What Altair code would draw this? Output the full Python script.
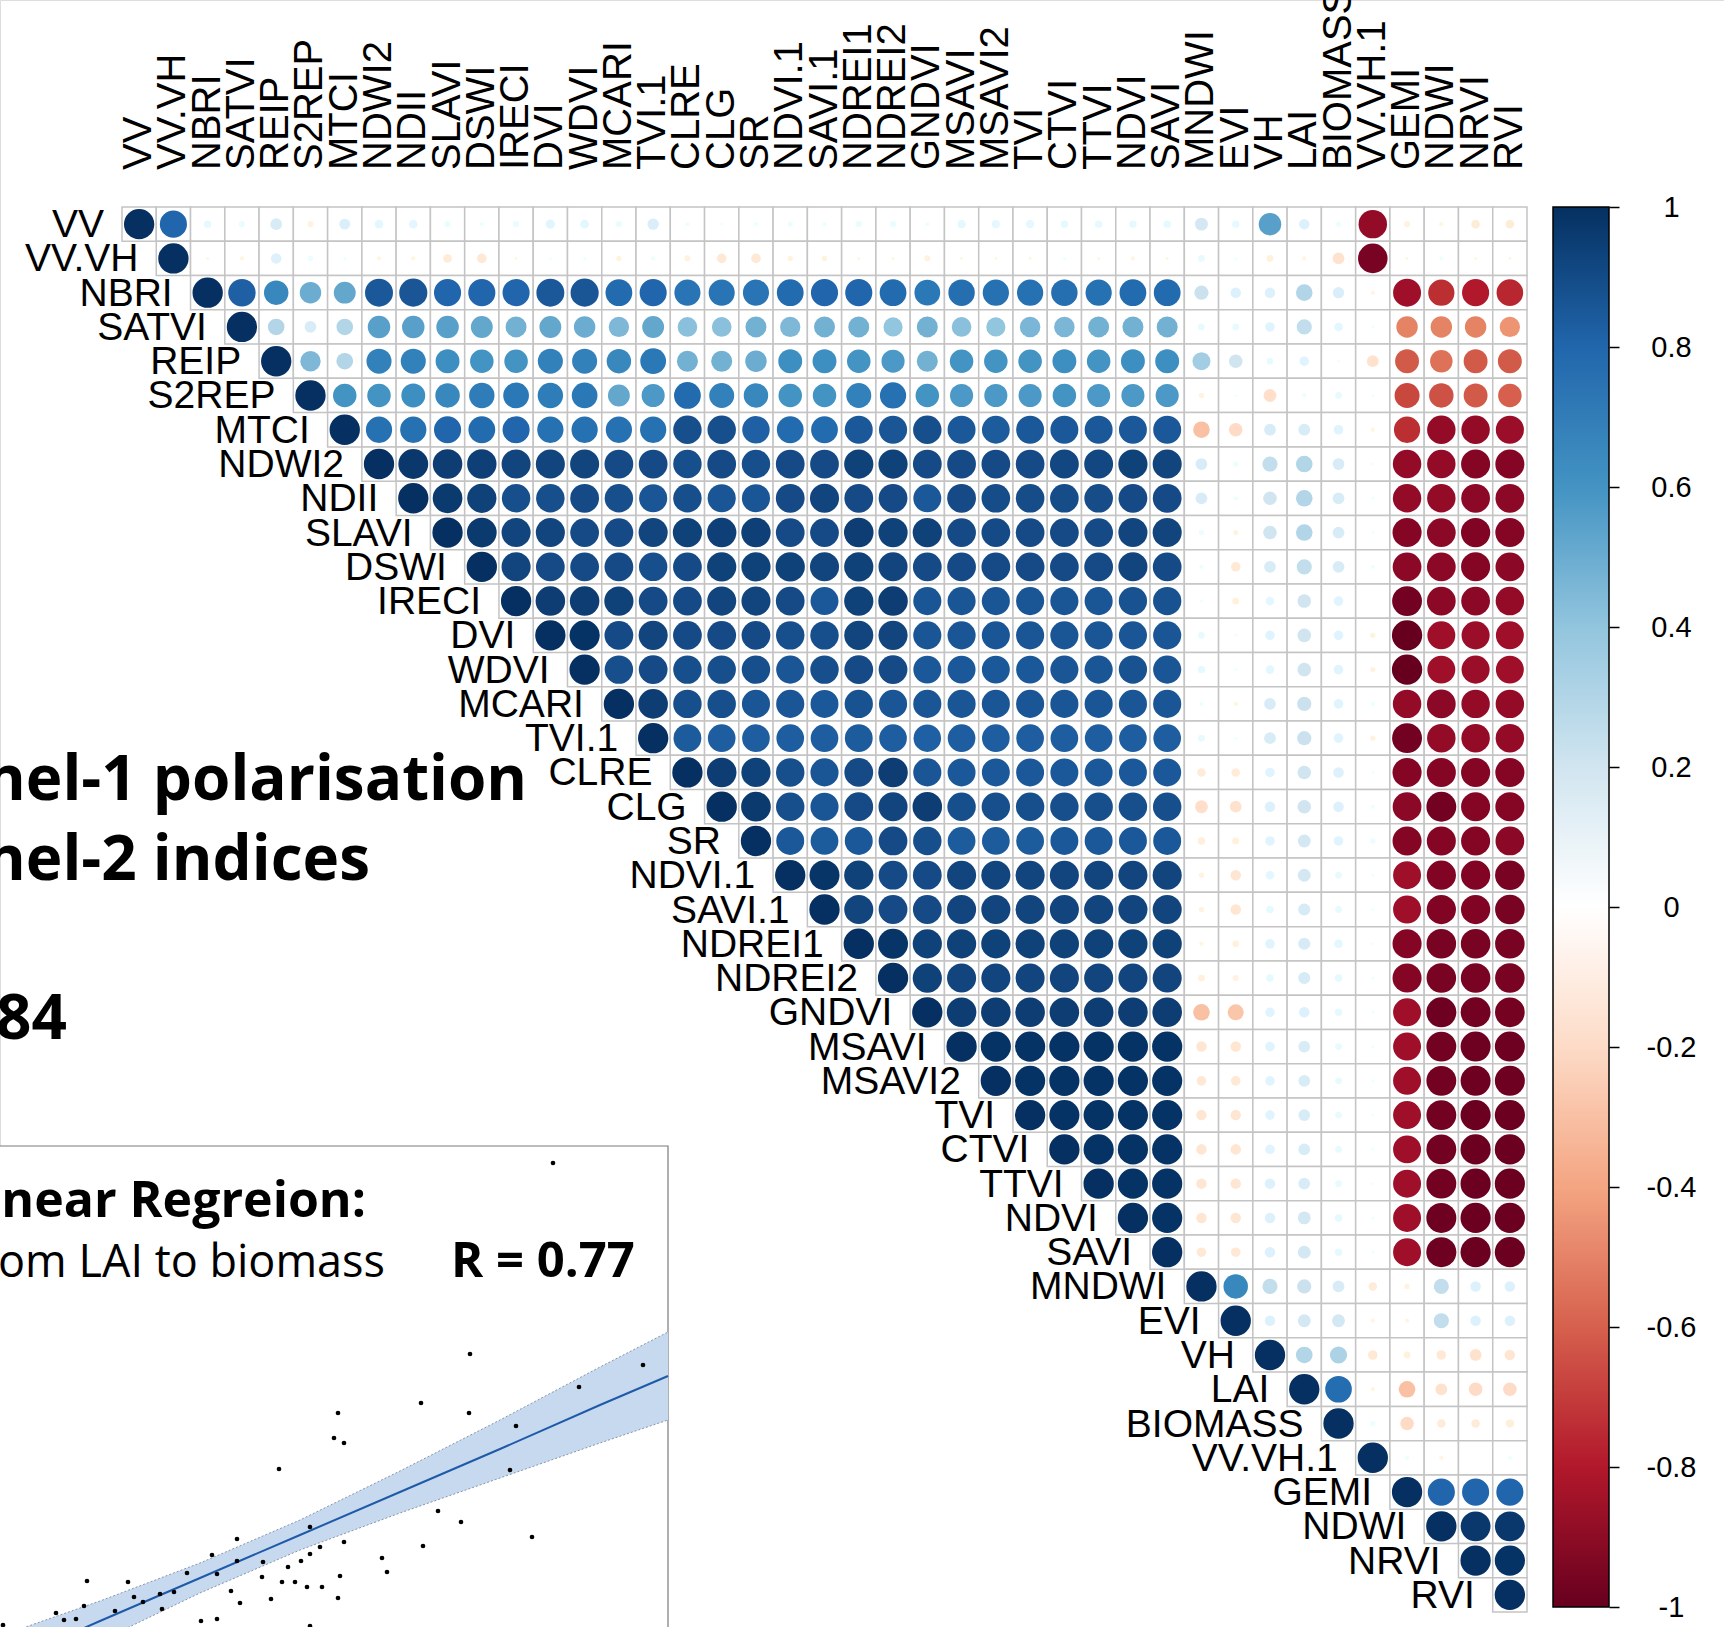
import altair as alt
import pandas as pd

names = ["VV", "VV.VH", "NBRI", "SATVI", "REIP", "S2REP", "MTCI", "NDWI2", "NDII", "SLAVI",
         "DSWI", "IRECI", "DVI", "WDVI", "MCARI", "TVI.1", "CLRE", "CLG", "SR", "NDVI.1",
         "SAVI.1", "NDREI1", "NDREI2", "GNDVI", "MSAVI", "MSAVI2", "TVI", "CTVI", "TTVI", "NDVI",
         "SAVI", "MNDWI", "EVI", "VH", "LAI", "BIOMASS", "VV.VH.1", "GEMI", "NDWI", "NRVI", "RVI"]

# upper-triangle correlations, each row starts at its own diagonal
r_VV = [1.0, 0.80, 0.06, 0.04, 0.15, -0.04, 0.13, 0.08, 0.08, 0.04, 0.02, 0.04, 0.09, 0.08, 0.04, 0.14,
        0.02, 0.01, 0.02, 0.03, 0.02, 0.04, 0.04, 0.02, 0.07, 0.07, 0.07, 0.06, 0.06, 0.06, 0.06,
        0.18, 0.06, 0.55, 0.12, 0.03, -0.88, -0.04, -0.02, -0.08, -0.08]
r_VVVH = [1.0, -0.01, -0.02, 0.12, 0.03, 0.01, -0.02, -0.02, -0.08, -0.10, -0.01, 0.01, 0.01, -0.03,
          0.02, -0.04, -0.10, -0.10, -0.03, -0.03, -0.01, -0.01, -0.04, -0.01, -0.01, -0.01, 0.01,
          -0.01, -0.02, -0.01, 0.05, 0.01, -0.05, -0.02, -0.15, -0.95, -0.01, 0.02, -0.01, -0.01]
r_NBRI = [1.0, 0.82, 0.65, 0.50, 0.52, 0.85, 0.86, 0.80, 0.80, 0.80, 0.85, 0.86, 0.78, 0.80, 0.74,
          0.74, 0.74, 0.78, 0.80, 0.80, 0.78, 0.72, 0.76, 0.75, 0.75, 0.76, 0.75, 0.78, 0.78,
          0.22, 0.12, 0.12, 0.30, 0.14, -0.02, -0.85, -0.75, -0.80, -0.77]
r_SATVI = [1.0, 0.30, 0.15, 0.30, 0.55, 0.55, 0.55, 0.52, 0.48, 0.52, 0.50, 0.45, 0.52, 0.42, 0.42,
           0.48, 0.45, 0.48, 0.48, 0.40, 0.48, 0.42, 0.40, 0.46, 0.46, 0.48, 0.48, 0.48,
           0.05, 0.05, 0.10, 0.25, 0.08, 0.01, -0.50, -0.50, -0.50, -0.45]
r_REIP = [1.0, 0.45, 0.30, 0.68, 0.68, 0.62, 0.60, 0.60, 0.68, 0.68, 0.65, 0.72, 0.48, 0.48, 0.50,
          0.62, 0.62, 0.60, 0.58, 0.48, 0.60, 0.60, 0.60, 0.62, 0.60, 0.62, 0.62,
          0.35, 0.20, 0.05, 0.10, 0.01, -0.15, -0.62, -0.55, -0.62, -0.62]
r_S2REP = [1.0, 0.60, 0.60, 0.62, 0.65, 0.70, 0.72, 0.70, 0.72, 0.52, 0.58, 0.78, 0.68, 0.65, 0.60,
           0.60, 0.68, 0.75, 0.60, 0.58, 0.58, 0.58, 0.60, 0.58, 0.58, 0.58,
           -0.03, 0.01, -0.18, 0.02, 0.05, 0.01, -0.68, -0.65, -0.62, -0.60]
r_MTCI = [1.0, 0.75, 0.75, 0.80, 0.78, 0.80, 0.75, 0.75, 0.75, 0.75, 0.88, 0.88, 0.82, 0.78, 0.78,
          0.85, 0.86, 0.88, 0.85, 0.84, 0.85, 0.85, 0.85, 0.85, 0.85,
          -0.30, -0.20, 0.15, 0.15, 0.10, -0.02, -0.75, -0.88, -0.88, -0.86]
r_NDWI2 = [1.0, 0.97, 0.95, 0.94, 0.92, 0.92, 0.92, 0.90, 0.90, 0.88, 0.90, 0.88, 0.90, 0.90, 0.93,
           0.93, 0.90, 0.90, 0.90, 0.90, 0.91, 0.91, 0.93, 0.92,
           0.15, 0.03, 0.25, 0.30, 0.15, 0.01, -0.88, -0.88, -0.92, -0.92]
r_NDII = [1.0, 0.96, 0.93, 0.88, 0.88, 0.90, 0.88, 0.86, 0.88, 0.86, 0.86, 0.90, 0.92, 0.90, 0.90,
          0.85, 0.90, 0.89, 0.89, 0.89, 0.89, 0.90, 0.90,
          0.15, 0.02, 0.20, 0.30, 0.15, 0.01, -0.88, -0.88, -0.90, -0.90]
r_SLAVI = [1.0, 0.96, 0.92, 0.92, 0.90, 0.90, 0.92, 0.93, 0.94, 0.94, 0.90, 0.90, 0.95, 0.93, 0.93,
           0.90, 0.90, 0.90, 0.90, 0.90, 0.92, 0.92,
           0.03, -0.03, 0.20, 0.30, 0.15, 0.01, -0.92, -0.90, -0.93, -0.92]
r_DSWI = [1.0, 0.92, 0.90, 0.90, 0.90, 0.88, 0.90, 0.93, 0.93, 0.93, 0.92, 0.93, 0.92, 0.90, 0.90,
          0.90, 0.90, 0.90, 0.90, 0.92, 0.90,
          0.02, -0.10, 0.15, 0.25, 0.15, 0.02, -0.90, -0.90, -0.92, -0.90]
r_IRECI = [1.0, 0.95, 0.95, 0.93, 0.90, 0.90, 0.92, 0.92, 0.90, 0.85, 0.93, 0.95, 0.86, 0.86, 0.86,
           0.86, 0.86, 0.86, 0.87, 0.87,
           0.01, -0.05, 0.08, 0.20, 0.10, 0.00, -0.97, -0.90, -0.90, -0.88]
r_DVI = [1.0, 0.99, 0.90, 0.92, 0.90, 0.90, 0.90, 0.88, 0.88, 0.92, 0.92, 0.86, 0.86, 0.86, 0.86,
         0.86, 0.86, 0.86, 0.86,
         0.05, 0.01, 0.10, 0.20, 0.10, -0.03, -1.00, -0.85, -0.86, -0.85]
r_WDVI = [1.0, 0.88, 0.90, 0.88, 0.88, 0.88, 0.86, 0.88, 0.90, 0.90, 0.85, 0.85, 0.85, 0.85, 0.86,
          0.86, 0.87, 0.86,
          0.06, 0.01, 0.08, 0.20, 0.10, -0.03, -1.00, -0.85, -0.86, -0.85]
r_MCARI = [1.0, 0.95, 0.88, 0.88, 0.86, 0.86, 0.85, 0.87, 0.86, 0.86, 0.86, 0.86, 0.86, 0.86, 0.86,
           0.86, 0.86,
           0.02, -0.02, 0.15, 0.22, 0.10, 0.02, -0.88, -0.90, -0.88, -0.88]
r_TVI1 = [1.0, 0.84, 0.83, 0.83, 0.83, 0.83, 0.84, 0.83, 0.82, 0.83, 0.83, 0.83, 0.83, 0.83, 0.83,
          0.83,
          0.05, 0.01, 0.15, 0.22, 0.10, -0.03, -0.97, -0.88, -0.88, -0.88]
r_CLRE = [1.0, 0.95, 0.93, 0.88, 0.86, 0.90, 0.95, 0.86, 0.85, 0.85, 0.85, 0.85, 0.85, 0.85, 0.85,
          -0.08, -0.08, 0.10, 0.20, 0.12, 0.01, -0.92, -0.92, -0.92, -0.92]
r_CLG = [1.0, 0.96, 0.88, 0.86, 0.90, 0.92, 0.95, 0.88, 0.88, 0.88, 0.88, 0.88, 0.88, 0.88,
         -0.18, -0.15, 0.12, 0.20, 0.12, 0.02, -0.90, -0.97, -0.92, -0.92]
r_SR = [1.0, 0.85, 0.84, 0.85, 0.90, 0.88, 0.84, 0.84, 0.84, 0.85, 0.85, 0.85, 0.85,
        -0.06, -0.05, 0.10, 0.18, 0.10, 0.03, -0.92, -0.92, -0.92, -0.90]
r_NDVI1 = [1.0, 0.98, 0.93, 0.90, 0.90, 0.92, 0.92, 0.92, 0.92, 0.92, 0.92, 0.92,
           -0.03, -0.12, 0.08, 0.18, 0.05, 0.01, -0.85, -0.93, -0.93, -0.95]
r_SAVI1 = [1.0, 0.92, 0.90, 0.90, 0.92, 0.92, 0.92, 0.92, 0.92, 0.92, 0.92,
           -0.03, -0.12, 0.06, 0.16, 0.05, 0.01, -0.85, -0.93, -0.93, -0.95]
r_NDREI1 = [1.0, 0.98, 0.93, 0.93, 0.93, 0.93, 0.93, 0.93, 0.93, 0.93,
            -0.02, -0.05, 0.10, 0.16, 0.08, 0.01, -0.92, -0.95, -0.95, -0.95]
r_NDREI2 = [1.0, 0.93, 0.92, 0.92, 0.92, 0.92, 0.92, 0.92, 0.92,
            -0.05, -0.04, 0.06, 0.16, 0.06, 0.01, -0.92, -0.95, -0.95, -0.95]
r_GNDVI = [1.0, 0.95, 0.95, 0.95, 0.95, 0.95, 0.95, 0.95,
           -0.30, -0.28, 0.10, 0.12, 0.06, 0.01, -0.85, -0.98, -0.97, -0.96]
r_MSAVI = [1.0, 0.99, 0.99, 0.99, 0.99, 0.99, 0.99,
           -0.12, -0.12, 0.10, 0.15, 0.05, 0.01, -0.85, -0.97, -0.98, -0.98]
r_MSAVI2 = [1.0, 0.99, 0.99, 0.99, 0.99, 0.99,
            -0.10, -0.10, 0.10, 0.15, 0.05, 0.01, -0.85, -0.97, -0.98, -0.98]
r_TVI = [1.0, 0.99, 0.99, 0.99, 0.99,
         -0.12, -0.12, 0.10, 0.15, 0.05, 0.01, -0.85, -0.97, -0.99, -0.99]
r_CTVI = [1.0, 0.99, 0.99, 0.99,
          -0.12, -0.12, 0.10, 0.15, 0.05, 0.01, -0.85, -0.97, -0.99, -0.99]
r_TTVI = [1.0, 0.99, 0.99,
          -0.12, -0.12, 0.12, 0.15, 0.05, 0.01, -0.85, -0.97, -0.99, -0.99]
r_NDVI = [1.0, 0.99,
          -0.12, -0.12, 0.12, 0.18, 0.06, 0.01, -0.85, -0.98, -0.99, -0.99]
r_SAVI = [1.0,
          -0.10, -0.10, 0.12, 0.18, 0.06, 0.01, -0.85, -0.98, -0.99, -0.99]
r_MNDWI = [1.0, 0.65, 0.25, 0.22, 0.15, -0.08, -0.03, 0.25, 0.12, 0.12]
r_EVI = [1.0, 0.12, 0.18, 0.18, -0.02, -0.02, 0.25, 0.12, 0.12]
r_VH = [1.0, 0.30, 0.32, -0.10, -0.05, -0.10, -0.15, -0.12]
r_LAI = [1.0, 0.77, -0.02, -0.30, -0.15, -0.20, -0.20]
r_BIOMASS = [1.0, 0.03, -0.20, -0.08, -0.08, -0.07]
r_VVVH1 = [1.0, 0.02, -0.02, 0.00, 0.02]
r_GEMI = [1.0, 0.80, 0.80, 0.80]
r_NDWI = [1.0, 0.97, 0.97]
r_NRVI = [1.0, 0.99]
r_RVI = [1.0]

rows = [r_VV, r_VVVH, r_NBRI, r_SATVI, r_REIP, r_S2REP, r_MTCI, r_NDWI2, r_NDII, r_SLAVI,
        r_DSWI, r_IRECI, r_DVI, r_WDVI, r_MCARI, r_TVI1, r_CLRE, r_CLG, r_SR, r_NDVI1,
        r_SAVI1, r_NDREI1, r_NDREI2, r_GNDVI, r_MSAVI, r_MSAVI2, r_TVI, r_CTVI, r_TTVI, r_NDVI,
        r_SAVI, r_MNDWI, r_EVI, r_VH, r_LAI, r_BIOMASS, r_VVVH1, r_GEMI, r_NDWI, r_NRVI, r_RVI]

# scatter (LAI vs biomass)
lai = [5.53, 4.70, 6.43, 5.79, 4.21, 3.38, 4.69, 5.16, 3.34, 3.44, 2.79, 5.10, 4.38, 4.61, 3.10,
       5.32, 2.37, 3.44, 4.23, 3.20, 2.12, 3.10, 3.82, 2.37, 3.01, 2.63, 2.88, 3.87, 1.87, 2.17,
       3.40, 2.62, 0.87, 1.28, 2.82, 2.95, 3.07, 3.22, 1.74, 1.60, 2.31, 1.34, 3.38, 2.71, 1.43,
       2.40, 0.84, 1.62, 1.15, 0.56, 0.64, 0.76, 2.01, 2.17, 0.03, 3.10]
biomass = [5.37, 3.46, 3.35, 3.13, 2.97, 2.87, 2.87, 2.74, 2.62, 2.57, 2.31, 2.30, 1.89, 1.78, 1.73,
           1.63, 1.61, 1.58, 1.54, 1.53, 1.45, 1.46, 1.42, 1.39, 1.39, 1.38, 1.33, 1.28, 1.27, 1.26,
           1.24, 1.23, 1.19, 1.18, 1.18, 1.18, 1.13, 1.13, 1.08, 1.06, 1.09, 1.03, 1.02, 1.01, 0.98,
           0.97, 0.94, 0.91, 0.89, 0.87, 0.80, 0.81, 0.79, 0.81, 0.75, 0.74]
fit_lai = [0.0, 1.0, 2.0, 3.0, 4.0, 5.0, 6.0, 6.68]
fit_mid = [0.35, 0.79, 1.22, 1.65, 2.08, 2.51, 2.95, 3.24]
fit_lo = [0.06, 0.59, 1.07, 1.50, 1.87, 2.22, 2.57, 2.80]
fit_hi = [0.64, 0.99, 1.37, 1.80, 2.29, 2.80, 3.33, 3.68]

cbar_ticks = [-1, -0.8, -0.6, -0.4, -0.2, 0, 0.2, 0.4, 0.6, 0.8, 1]
rdbu = ["#67001F", "#B2182B", "#D6604D", "#F4A582", "#FDDBC7", "#FFFFFF",
        "#D1E5F0", "#92C5DE", "#4393C3", "#2166AC", "#053061"]

# ---------------- build tables ----------------
recs = []
for i, vals in enumerate(rows):
    assert len(vals) == len(names) - i, (names[i], len(vals))
    for k, v in enumerate(vals):
        recs.append({"row": names[i], "col": names[i + k], "r": v, "absr": abs(v)})
df = pd.DataFrame(recs)
lab = pd.DataFrame({"name": names})
pts = pd.DataFrame({"lai": lai, "biomass": biomass})
fit = pd.DataFrame({"lai": fit_lai, "mid": fit_mid, "lo": fit_lo, "hi": fit_hi})

LABEL_FONT = "Liberation Sans"
xs = alt.Scale(domain=names, range=[122, 1527], paddingInner=0, paddingOuter=0)
ys = alt.Scale(domain=names, range=[207, 1612], paddingInner=0, paddingOuter=0)

grid = alt.Chart(df).mark_rect(fill="white", stroke="#c4c4c4", strokeWidth=1.5).encode(
    x=alt.X("col:N", scale=xs, axis=None),
    y=alt.Y("row:N", scale=ys, axis=None),
)
circles = alt.Chart(df).mark_circle(opacity=1).encode(
    x=alt.X("col:N", scale=xs, axis=None),
    y=alt.Y("row:N", scale=ys, axis=None),
    size=alt.Size("absr:Q", scale=alt.Scale(domain=[0, 1], range=[0, 920]), legend=None),
    color=alt.Color("r:Q", scale=alt.Scale(domain=cbar_ticks, range=rdbu), legend=None),
)
rowlab = alt.Chart(lab).mark_text(align="right", baseline="middle", dx=-35, dy=1, font=LABEL_FONT,
                                  fontSize=39, color="black").encode(
    x=alt.X("name:N", scale=xs, axis=None),
    y=alt.Y("name:N", scale=ys, axis=None),
    text="name:N",
)
collab = alt.Chart(lab).mark_text(align="left", baseline="middle", angle=270, font=LABEL_FONT,
                                  fontSize=40, color="black").encode(
    x=alt.X("name:N", scale=xs, axis=None),
    y=alt.value(170),
    text="name:N",
)

grad = alt.LinearGradient(
    gradient="linear",
    stops=[alt.GradientStop(color=c, offset=i / 10) for i, c in enumerate(rdbu)],
    x1=0, x2=0, y1=1, y2=0,
)
cbar = alt.Chart(pd.DataFrame({"lo": [-1], "hi": [1]})).mark_rect(
    fill=grad, stroke="black", strokeWidth=1.5).encode(
    x=alt.value(1553), x2=alt.value(1609),
    y=alt.Y("lo:Q", scale=alt.Scale(domain=[-1, 1], range=[1607, 207], nice=False, zero=False),
            axis=alt.Axis(orient="right", offset=-115, values=cbar_ticks, tickSize=10,
                          tickWidth=1.5, tickColor="black", domain=False, grid=False,
                          labelFont="Liberation Sans", labelFontSize=29, labelColor="black",
                          labelAlign="center", labelBaseline="middle", labelPadding=52,
                          labelOverlap=False, title=None,
                          labelExpr="datum.value == 0 ? '0' : (datum.value < 0 ? '-' : '') + "
                                    "(abs(datum.value) == 1 ? '1' : format(abs(datum.value), '.1f'))")),
    y2="hi:Q",
)


def label(txt, x, y, size, weight="bold", align="left", font="Open Sans"):
    return alt.Chart(pd.DataFrame({"t": [txt]})).mark_text(
        align=align, baseline="alphabetic", font=font, fontSize=size, fontWeight=weight,
        color="black").encode(x=alt.value(x), y=alt.value(y), text="t:N")


t1 = label("nel-1 polarisation", -15, 800, 62)
t2 = label("nel-2 indices", -15, 880, 62)
t3 = label("84", -4, 1039, 62)

box = alt.Chart(pd.DataFrame({"a": [0]})).mark_rect(
    fill="white", stroke="#7a7a7a", strokeWidth=1.2).encode(
    x=alt.value(-5), x2=alt.value(668), y=alt.value(1146), y2=alt.value(1700))

sx = alt.Scale(domain=[0, 10], range=[0, 1000], nice=False, zero=False)
sy = alt.Scale(domain=[0, 10], range=[1700, 700], nice=False, zero=False)
band = alt.Chart(fit).mark_area(color="#c6d9ef", opacity=1).encode(
    x=alt.X("lai:Q", scale=sx, axis=None),
    y=alt.Y("lo:Q", scale=sy, axis=None), y2="hi:Q")
edge_lo = alt.Chart(fit).mark_line(color="#6f7f95", strokeWidth=0.8, strokeDash=[2, 2]).encode(
    x=alt.X("lai:Q", scale=sx, axis=None), y=alt.Y("lo:Q", scale=sy, axis=None))
edge_hi = alt.Chart(fit).mark_line(color="#6f7f95", strokeWidth=0.8, strokeDash=[2, 2]).encode(
    x=alt.X("lai:Q", scale=sx, axis=None), y=alt.Y("hi:Q", scale=sy, axis=None))
fline = alt.Chart(fit).mark_line(color="#1f5aa8", strokeWidth=2).encode(
    x=alt.X("lai:Q", scale=sx, axis=None), y=alt.Y("mid:Q", scale=sy, axis=None))
points = alt.Chart(pts).mark_circle(color="black", size=22, opacity=1).encode(
    x=alt.X("lai:Q", scale=sx, axis=None), y=alt.Y("biomass:Q", scale=sy, axis=None))

s1 = label("near Regreion:", 366, 1217, 50, align="right")
s2 = label("om LAI to biomass", 385, 1277, 45, weight="normal", align="right")
s3 = label("R = 0.77", 451, 1277, 49)

chart = alt.layer(
    grid, circles, rowlab, collab, cbar, t1, t2, t3,
    box, band, edge_lo, edge_hi, fline, points, s1, s2, s3,
).resolve_scale(
    x="independent", y="independent", color="independent", size="independent"
).properties(
    width=1724, height=1627, padding=0,
    autosize=alt.AutoSizeParams(type="none"),
).configure_view(stroke=None).configure(background="white")

chart.save("out.html", embed_options={"renderer": "svg", "actions": False})
